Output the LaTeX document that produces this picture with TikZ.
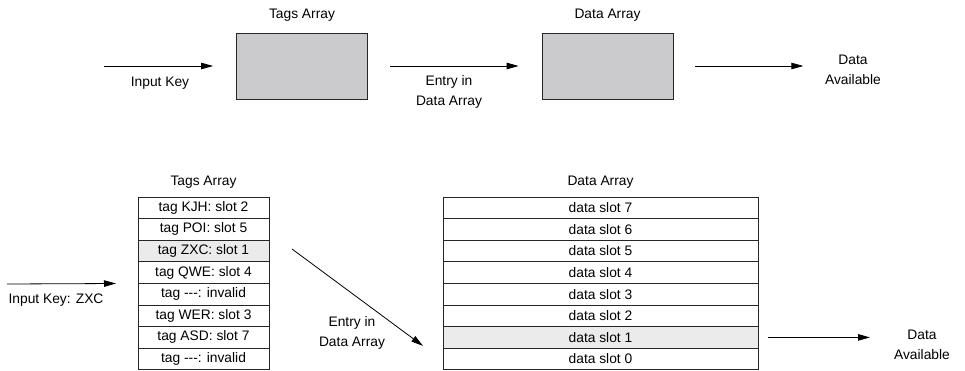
\documentclass[tikz,border=0pt]{standalone}
\usepackage{fontspec}
\setmainfont{Liberation Sans}
\definecolor{BoxGray}{HTML}{CBCBCD}
\definecolor{HitGray}{HTML}{EBEBEB}
\usetikzlibrary{positioning,arrows.meta}

\begin{document}
\begin{tikzpicture}[x=1pt,y=-1pt,
      font=\fontsize{13.8}{20}\selectfont,
      blk/.style={rectangle, draw=black!85, fill=BoxGray, line width=0.8pt,
        minimum width=131pt, minimum height=66pt},
      row/.style={rectangle, draw=black!85, line width=0.8pt, minimum height=21.6pt,
        inner sep=0pt, outer sep=0pt},
      hit/.style={fill=HitGray},
      lbl/.style={inner sep=0pt, align=center},
      arr/.style={-{Triangle[length=12pt,width=6.5pt]}, line width=0.8pt}]
      \useasboundingbox (0,0) rectangle (965,370);
      % simple view
      \node[blk] (tags) at (302,66) {};
      \node[blk] (data) at (607.5,66) {};
      \node[lbl] (tagsT) at ([yshift=17pt]tags.north) {Tags Array};
      \node[lbl] (dataT) at ([yshift=17pt]data.north) {Data Array};
      \coordinate (in1) at ([xshift=-132pt]tags.west);
      \coordinate (out1) at ([xshift=130pt]data.east);
      \draw[arr, shorten >=23pt] (in1) -- (tags);
      \draw[arr, shorten <=22pt, shorten >=23pt] (tags) -- (data);
      \draw[arr, shorten <=22pt] (data) -- (out1);
      \node[lbl] (inL1) at (160,83) {Input Key};
      \node[lbl] (entryL1) at (449,92) {Entry in\\Data Array};
      \node[lbl] (outL1) at (853,70) {Data\\Available};
      % detailed view
      \foreach \txt/\sty [count=\i] in {tag KJH: slot 2/, tag POI: slot 5/, tag ZXC: slot 1/hit,
          tag QWE: slot 4/, tag {-}{-}{-}: invalid/, tag WER: slot 3/, tag ASD: slot 7/,
          tag {-}{-}{-}: invalid/}
        \node[row, \sty, minimum width=131pt] (t\i) at (203.5,186.2+\i*21.6) {\txt};
      \foreach \n/\sty [count=\i] in {7/,6/,5/,4/,3/,2/,1/hit,0/}
        \node[row, \sty, minimum width=315pt] (d\n) at (600.5,186.2+\i*21.6) {data slot \n};
      \node[lbl] (tagsT2) at ([yshift=15pt]t1.north) {Tags Array};
      \node[lbl] (dataT2) at ([yshift=15pt]d7.north) {Data Array};
      \coordinate (in2) at (7,284);
      \coordinate (out2) at ([xshift=112pt]d1.east);
      \draw[arr, shorten >=22pt] (in2) -- (t4.south west);
      \draw[arr] ([shift={(23,-2)}]t3.east) -- ([shift={(-20,8.5)}]d1.west);
      \draw[arr, shorten <=10pt] (d1) -- (out2);
      \node[lbl] (inL2) at (56,300) {Input Key: ZXC};
      \node[lbl] (entryL2) at (352,333) {Entry in\\Data Array};
      \node[lbl] (outL2) at (922,345) {Data\\Available};
    \end{tikzpicture}
\end{document}
